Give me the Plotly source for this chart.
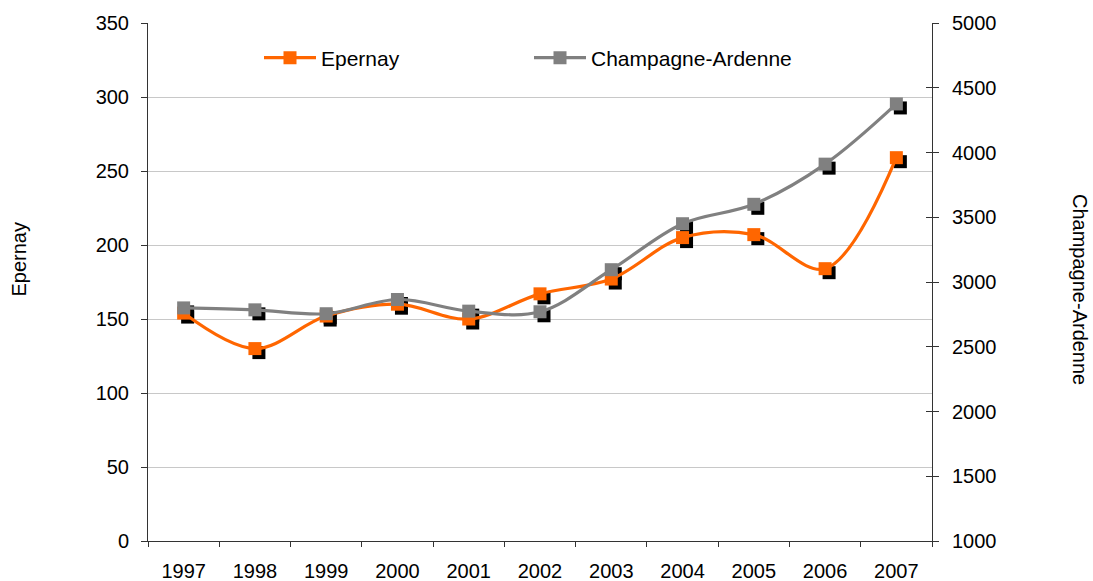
import plotly.graph_objects as go

years = ["1997", "1998", "1999", "2000", "2001", "2002", "2003", "2004", "2005", "2006", "2007"]
epernay = [154, 130, 152, 160, 150, 167, 177, 205, 207, 184, 259]
champagne = [2800, 2785, 2755, 2865, 2775, 2770, 3095, 3450, 3600, 3910, 4375]

left_ticks = [0, 50, 100, 150, 200, 250, 300, 350]
right_ticks = [1000, 1500, 2000, 2500, 3000, 3500, 4000, 4500, 5000]

ORANGE = "#FF6600"
GREY = "#808080"
FONT = "Liberation Sans, Arial, sans-serif"

W, H = 1093, 581
ML, MR, MT, MB = 148, 161, 23, 40
PW = W - ML - MR
PH = H - MT - MB
SH = 4  # shadow offset in px

xr = [-0.5, len(years) - 0.5]
yl = [0, 350]
yr = [1000, 5000]
dx = (xr[1] - xr[0]) / PW * SH
dyl = (yl[1] - yl[0]) / PH * SH
dyr = (yr[1] - yr[0]) / PH * SH

fig = go.Figure()

# shadows (base axes, shifted)
fig.add_trace(go.Scatter(x=years, y=epernay, mode="markers", xaxis="x", yaxis="y",
                         marker=dict(symbol="square", size=13, color="black"),
                         showlegend=False, hoverinfo="skip"))
fig.add_trace(go.Scatter(x=years, y=champagne, mode="markers", xaxis="x", yaxis="y2",
                         marker=dict(symbol="square", size=13, color="black"),
                         showlegend=False, hoverinfo="skip"))
# main series
fig.add_trace(go.Scatter(x=years, y=epernay, name="Epernay", mode="lines+markers",
                         xaxis="x2", yaxis="y3",
                         line=dict(color=ORANGE, width=3.2, shape="spline", smoothing=1.0),
                         marker=dict(symbol="square", size=13, color=ORANGE)))
fig.add_trace(go.Scatter(x=years, y=champagne, name="Champagne-Ardenne", mode="lines+markers",
                         xaxis="x2", yaxis="y4",
                         line=dict(color=GREY, width=3.2, shape="spline", smoothing=1.0),
                         marker=dict(symbol="square", size=13, color=GREY)))

axfont = dict(family=FONT, size=20, color="black")
AXC = "#333333"

fig.update_layout(
    width=W, height=H,
    margin=dict(l=ML, r=MR, t=MT, b=MB, autoexpand=False),
    paper_bgcolor="white", plot_bgcolor="white",
    font=dict(family=FONT, size=20, color="black"),
    xaxis=dict(type="category", categoryorder="array", categoryarray=years,
               range=[xr[0] - dx, xr[1] - dx], visible=False, fixedrange=True),
    yaxis=dict(range=[yl[0] + dyl, yl[1] + dyl], visible=False, showgrid=False),
    yaxis2=dict(range=[yr[0] + dyr, yr[1] + dyr], overlaying="y", visible=False, showgrid=False),
    xaxis2=dict(type="category", categoryorder="array", categoryarray=years,
                overlaying="x", range=xr, showline=True, linecolor=AXC, linewidth=1,
                ticks="outside", ticklen=5, tickcolor=AXC, tickson="boundaries",
                tickfont=axfont, ticklabelstandoff=12, showgrid=False, zeroline=False,
                anchor="y3", side="bottom"),
    yaxis3=dict(range=yl, overlaying="y", side="left", tickvals=left_ticks,
                showline=True, linecolor=AXC, linewidth=1, ticks="outside", ticklen=6,
                tickcolor=AXC, tickfont=axfont, ticklabelstandoff=8,
                showgrid=True, gridcolor="#C8C8C8", gridwidth=1, zeroline=False,
                anchor="x2"),
    yaxis4=dict(range=yr, overlaying="y", side="right", tickvals=right_ticks,
                showline=True, linecolor=AXC, linewidth=1, ticks="outside", ticklen=6,
                tickcolor=AXC, tickfont=axfont, ticklabelstandoff=9,
                showgrid=False, zeroline=False, anchor="x2"),
    yaxis5=dict(range=yr, overlaying="y", side="right", tickvals=right_ticks,
                showline=False, ticks="inside", ticklen=6, tickcolor=AXC,
                showticklabels=False, showgrid=False, zeroline=False, anchor="x2"),
    legend=dict(orientation="h", x=(259 - ML) / PW, y=(H - MB - 58) / PH,
                xanchor="left", yanchor="middle", bgcolor="rgba(0,0,0,0)",
                font=dict(family=FONT, size=21, color="black"),
                itemwidth=52, entrywidth=203, entrywidthmode="pixels"),
    annotations=[
        dict(text="Epernay", xref="paper", yref="paper", x=(18 - ML) / PW, y=(H - MB - 259.5) / PH,
             showarrow=False, textangle=-90, font=dict(family=FONT, size=20, color="black"),
             xanchor="center", yanchor="middle"),
        dict(text="Champagne-Ardenne", xref="paper", yref="paper", x=(1080 - ML) / PW,
             y=(H - MB - 289) / PH, showarrow=False, textangle=90,
             font=dict(family=FONT, size=20, color="black"), xanchor="center", yanchor="middle"),
    ],
)
# dummy trace to make yaxis5 exist
fig.add_trace(go.Scatter(x=[years[0]], y=[None], xaxis="x2", yaxis="y5", showlegend=False,
                         hoverinfo="skip", mode="markers"))

fig.write_html("out.html", config={"displayModeBar": False},
               post_script="document.body.style.margin='0';document.body.style.overflow='hidden';")
